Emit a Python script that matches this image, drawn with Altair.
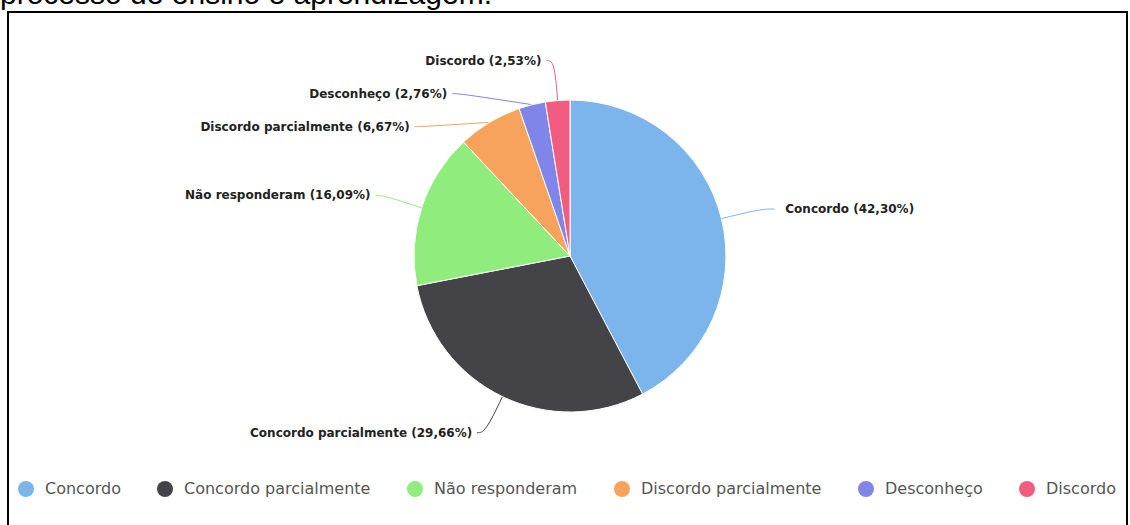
import math
import altair as alt
import pandas as pd

# ---- data ----
categories = ["Concordo", "Concordo parcialmente", "Não responderam",
              "Discordo parcialmente", "Desconheço", "Discordo"]
percentages = [42.30, 29.66, 16.09, 6.67, 2.76, 2.53]
colors = ["#7cb5ec", "#434348", "#90ed7d", "#f7a35c", "#8085e9", "#f15c80"]
title_text = "processo de ensino e aprendizagem."

# ---- layout constants ----
W, H = 1130, 525
CX, CY = 570, 256          # pie centre
R = 156                    # pie radius
R1 = 196                   # radius of label elbow
L2 = 8                     # horizontal connector length
GAP = 33                   # min vertical gap between labels on one side
TEXT_PAD = 5

def fmt(v):
    return f"{v:.2f}".replace(".", ",")

total = sum(percentages)
rows = []
start = 0.0
for i, (c, v) in enumerate(zip(categories, percentages)):
    a0 = start / total * 2 * math.pi
    a1 = (start + v) / total * 2 * math.pi
    start += v
    m = (a0 + a1) / 2
    side = "right" if math.sin(m) >= 0 else "left"
    rows.append(dict(category=c, value=v, idx=i, mid=m, side=side,
                     label=f"{c} ({fmt(v)}%)",
                     ex=CX + R * math.sin(m), ey=CY - R * math.cos(m),
                     ly=CY - R1 * math.cos(m)))

# resolve overlaps per side (push down)
for s in ("left", "right"):
    side_rows = sorted([r for r in rows if r["side"] == s], key=lambda r: r["ly"])
    for k in range(1, len(side_rows)):
        side_rows[k]["ly"] = max(side_rows[k]["ly"], side_rows[k - 1]["ly"] + GAP)

line_rows, text_rows = [], []
for r in rows:
    dy = r["ly"] - CY
    h = math.sqrt(max(R1 ** 2 - dy ** 2, 0))
    sgn = 1 if r["side"] == "right" else -1
    elbow_x = CX + sgn * h
    end_x = elbow_x + sgn * (L2 + (6 if sgn > 0 else 0))
    line_rows += [
        dict(category=r["category"], pt=0, px=r["ex"], py=r["ey"]),
        dict(category=r["category"], pt=1, px=elbow_x, py=r["ly"]),
        dict(category=r["category"], pt=2, px=end_x, py=r["ly"]),
    ]
    text_rows.append(dict(category=r["category"], label=r["label"], side=r["side"],
                          px=end_x + sgn * (TEXT_PAD + (6 if sgn > 0 else 0)), py=r["ly"]))

pie_df = pd.DataFrame(rows)[["category", "value", "idx"]]
line_df = pd.DataFrame(line_rows)
text_df = pd.DataFrame(text_rows)

xs = alt.Scale(domain=[0, W], nice=False, zero=False)
ys = alt.Scale(domain=[H, 0], nice=False, zero=False)
color_scale = alt.Scale(domain=categories, range=colors)

legend = alt.Legend(
    orient="none", legendX=18, legendY=481, direction="horizontal", title=None,
    symbolType="circle", symbolSize=256, symbolStrokeWidth=0, symbolOpacity=1,
    labelFont="DejaVu Sans", labelFontSize=16, labelColor="#555555",
    labelOffset=11, columnPadding=36, padding=0, labelLimit=400,
)

border = alt.Chart(pd.DataFrame({"a": [0]})).mark_rect(
    filled=False, stroke="black", strokeWidth=2
).encode(x=alt.value(8), x2=alt.value(1127), y=alt.value(12), y2=alt.value(600))

title = alt.Chart(pd.DataFrame({"t": [title_text]})).mark_text(
    align="left", baseline="alphabetic", font="Liberation Sans", fontSize=30, color="#000000"
).encode(text="t:N", x=alt.value(0), y=alt.value(4))

pie = alt.Chart(pie_df).mark_arc(radius=R, stroke="white", strokeWidth=1).encode(
    theta=alt.Theta("value:Q", stack=True),
    color=alt.Color("category:N", scale=color_scale, legend=legend),
    order=alt.Order("idx:Q"),
    x=alt.value(CX), y=alt.value(CY),
)

lines = alt.Chart(line_df).mark_line(interpolate="basis", strokeWidth=1).encode(
    x=alt.X("px:Q", scale=xs, axis=None),
    y=alt.Y("py:Q", scale=ys, axis=None),
    detail="category:N",
    order="pt:Q",
    color=alt.Color("category:N", scale=color_scale, legend=legend),
)

def label_layer(side, align):
    return alt.Chart(text_df).transform_filter(
        alt.datum.side == side
    ).mark_text(align=align, baseline="middle", font="DejaVu Sans",
                fontWeight="bold", fontSize=12, color="#222222").encode(
        x=alt.X("px:Q", scale=xs, axis=None),
        y=alt.Y("py:Q", scale=ys, axis=None),
        text="label:N",
    )

chart = alt.layer(
    border, title, lines, pie, label_layer("left", "right"), label_layer("right", "left")
).resolve_legend(color="shared").properties(
    width=W, height=H, autosize=alt.AutoSizeParams(type="none"),
    padding=0, background="white",
).configure_view(stroke=None)

chart.save("out.html", embed_options={"renderer": "svg", "actions": False})
